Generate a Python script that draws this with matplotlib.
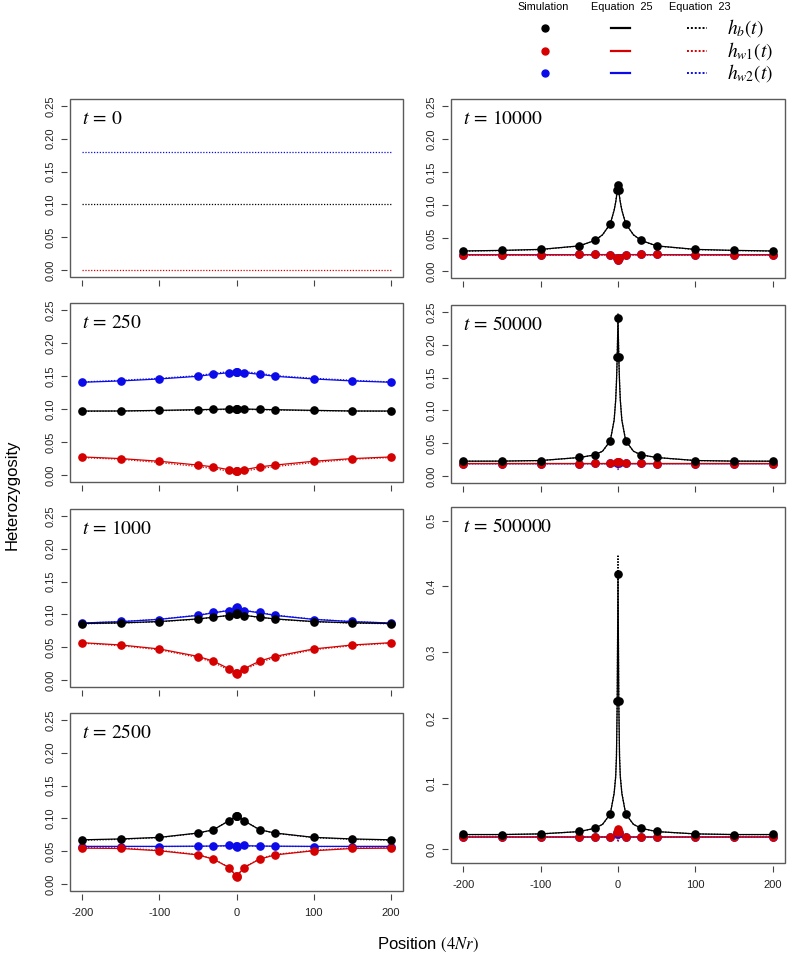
import matplotlib
matplotlib.use('Agg')
import matplotlib.pyplot as plt
from matplotlib.patches import Rectangle
from matplotlib.lines import Line2D

plt.rcParams['font.family'] = ['Liberation Sans', 'DejaVu Sans']
plt.rcParams['mathtext.fontset'] = 'stix'

# ---------------- data ----------------
pos = [-200, -150, -100, -50, -30, -10, -1, 0, 1, 10, 30, 50, 100, 150, 200]
pos_curve = [-200, -150, -100, -50, -30, -20, -10, -5, -3, -2, -1, 0, 1, 2, 3, 5, 10, 20, 30, 50, 100, 150, 200]
xticks = [-200, -100, 0, 100, 200]
yticks_small = [0.00, 0.05, 0.10, 0.15, 0.20, 0.25]
yticks_big = [0.0, 0.1, 0.2, 0.3, 0.4, 0.5]

# t = 0 (Equation 23 only)
t0_hb_eq23 = [0.10, 0.10, 0.10, 0.10, 0.10, 0.10, 0.10, 0.10, 0.10, 0.10, 0.10, 0.10, 0.10, 0.10, 0.10]
t0_hw1_eq23 = [0.0, 0.0, 0.0, 0.0, 0.0, 0.0, 0.0, 0.0, 0.0, 0.0, 0.0, 0.0, 0.0, 0.0, 0.0]
t0_hw2_eq23 = [0.18, 0.18, 0.18, 0.18, 0.18, 0.18, 0.18, 0.18, 0.18, 0.18, 0.18, 0.18, 0.18, 0.18, 0.18]

# t = 250
t250_hb_sim = [0.097, 0.097, 0.098, 0.099, 0.100, 0.100, 0.100, 0.100, 0.100, 0.100, 0.100, 0.099, 0.098, 0.097, 0.097]
t250_hw1_sim = [0.028, 0.025, 0.021, 0.015, 0.0125, 0.008, 0.0065, 0.0058, 0.0065, 0.008, 0.0125, 0.015, 0.021, 0.025, 0.028]
t250_hw2_sim = [0.141, 0.143, 0.146, 0.150, 0.153, 0.155, 0.156, 0.156, 0.156, 0.155, 0.153, 0.150, 0.146, 0.143, 0.141]
t250_hb_eq25 = [0.097, 0.097, 0.098, 0.099, 0.0995, 0.100, 0.100, 0.100, 0.100, 0.100, 0.0995, 0.099, 0.098, 0.097, 0.097]
t250_hw1_eq25 = [0.0275, 0.025, 0.021, 0.0152, 0.0125, 0.0082, 0.0066, 0.006, 0.0066, 0.0082, 0.0125, 0.0152, 0.021, 0.025, 0.0275]
t250_hw2_eq25 = [0.1405, 0.1425, 0.1455, 0.1495, 0.1525, 0.155, 0.1558, 0.156, 0.1558, 0.155, 0.1525, 0.1495, 0.1455, 0.1425, 0.1405]
t250_hb_eq23 = [0.0965, 0.097, 0.0975, 0.0985, 0.099, 0.0995, 0.0998, 0.1, 0.0998, 0.0995, 0.099, 0.0985, 0.0975, 0.097, 0.0965]
t250_hw1_eq23 = [0.0265, 0.024, 0.019, 0.013, 0.010, 0.006, 0.004, 0.0035, 0.004, 0.006, 0.010, 0.013, 0.019, 0.024, 0.0265]
t250_hw2_eq23 = [0.141, 0.1435, 0.1465, 0.1505, 0.154, 0.1565, 0.1575, 0.158, 0.1575, 0.1565, 0.154, 0.1505, 0.1465, 0.1435, 0.141]

# t = 1000
t1000_hb_sim = [0.0859, 0.0869, 0.089, 0.093, 0.096, 0.098, 0.101, 0.102, 0.101, 0.098, 0.096, 0.093, 0.089, 0.0869, 0.0859]
t1000_hw1_sim = [0.0571, 0.0535, 0.0475, 0.036, 0.0288, 0.0172, 0.011, 0.009, 0.011, 0.0172, 0.0288, 0.036, 0.0475, 0.0535, 0.0571]
t1000_hw2_sim = [0.0865, 0.0895, 0.092, 0.099, 0.103, 0.1055, 0.110, 0.1115, 0.110, 0.1055, 0.103, 0.099, 0.092, 0.0895, 0.0865]
t1000_hb_eq25 = [0.0862, 0.0872, 0.0892, 0.0932, 0.0958, 0.0985, 0.1005, 0.101, 0.1005, 0.0985, 0.0958, 0.0932, 0.0892, 0.0872, 0.0862]
t1000_hw1_eq25 = [0.057, 0.0535, 0.0475, 0.0362, 0.029, 0.0175, 0.0112, 0.0095, 0.0112, 0.0175, 0.029, 0.0362, 0.0475, 0.0535, 0.057]
t1000_hw2_eq25 = [0.087, 0.089, 0.0925, 0.0985, 0.1025, 0.1058, 0.1095, 0.111, 0.1095, 0.1058, 0.1025, 0.0985, 0.0925, 0.089, 0.087]
t1000_hb_eq23 = [0.0858, 0.0868, 0.0888, 0.0928, 0.0955, 0.0985, 0.1008, 0.1015, 0.1008, 0.0985, 0.0955, 0.0928, 0.0888, 0.0868, 0.0858]
t1000_hw1_eq23 = [0.0562, 0.0525, 0.0462, 0.0345, 0.027, 0.0155, 0.0095, 0.008, 0.0095, 0.0155, 0.027, 0.0345, 0.0462, 0.0525, 0.0562]
t1000_hw2_eq23 = [0.0868, 0.0892, 0.0928, 0.099, 0.103, 0.1062, 0.1098, 0.1112, 0.1098, 0.1062, 0.103, 0.099, 0.0928, 0.0892, 0.0868]

# t = 2500
t2500_hb_sim = [0.0672, 0.0687, 0.0712, 0.0778, 0.0828, 0.0965, 0.1035, 0.104, 0.1035, 0.0965, 0.0828, 0.0778, 0.0712, 0.0687, 0.0672]
t2500_hw1_sim = [0.0545, 0.0545, 0.0505, 0.0444, 0.0379, 0.0253, 0.013, 0.0106, 0.013, 0.0253, 0.0379, 0.0444, 0.0505, 0.0545, 0.0545]
t2500_hw2_sim = [0.0571, 0.0571, 0.0566, 0.058, 0.0576, 0.0596, 0.058, 0.0566, 0.058, 0.0596, 0.0576, 0.058, 0.0566, 0.0571, 0.0571]
t2500_hb_eq25 = [0.0675, 0.0688, 0.0712, 0.0778, 0.0828, 0.0962, 0.1032, 0.1038, 0.1032, 0.0962, 0.0828, 0.0778, 0.0712, 0.0688, 0.0675]
t2500_hw1_eq25 = [0.0548, 0.0543, 0.0508, 0.0445, 0.038, 0.0255, 0.0132, 0.011, 0.0132, 0.0255, 0.038, 0.0445, 0.0508, 0.0543, 0.0548]
t2500_hw2_eq25 = [0.0575, 0.0575, 0.0575, 0.0578, 0.058, 0.0585, 0.0582, 0.058, 0.0582, 0.0585, 0.058, 0.0578, 0.0575, 0.0575, 0.0575]
t2500_hb_eq23 = [0.0668, 0.0682, 0.0708, 0.0775, 0.0825, 0.0968, 0.104, 0.1045, 0.104, 0.0968, 0.0825, 0.0775, 0.0708, 0.0682, 0.0668]
t2500_hw1_eq23 = [0.0555, 0.0552, 0.0515, 0.0452, 0.0385, 0.0258, 0.0135, 0.0112, 0.0135, 0.0258, 0.0385, 0.0452, 0.0515, 0.0552, 0.0555]
t2500_hw2_eq23 = [0.0572, 0.0572, 0.0572, 0.0575, 0.0578, 0.0582, 0.058, 0.0578, 0.058, 0.0582, 0.0578, 0.0575, 0.0572, 0.0572, 0.0572]

# t = 10000
t10000_hb_sim = [0.0305, 0.0314, 0.0329, 0.0382, 0.0464, 0.0716, 0.123, 0.131, 0.123, 0.0716, 0.0464, 0.0382, 0.0329, 0.0314, 0.0305]
t10000_hw1_sim = [0.0247, 0.0247, 0.0247, 0.0256, 0.0266, 0.025, 0.020, 0.0164, 0.020, 0.025, 0.0266, 0.0256, 0.0247, 0.0247, 0.0247]
t10000_hw2_sim = [0.0247, 0.0247, 0.0247, 0.0256, 0.0264, 0.025, 0.020, 0.017, 0.020, 0.025, 0.0264, 0.0256, 0.0247, 0.0247, 0.0247]
t10000_hb_eq25 = [0.0305, 0.0314, 0.0329, 0.0382, 0.0464, 0.055, 0.0716, 0.092, 0.104, 0.112, 0.122, 0.131, 0.122, 0.112, 0.104, 0.092, 0.0716, 0.055, 0.0464, 0.0382, 0.0329, 0.0314, 0.0305]
t10000_hw1_eq25 = [0.0248, 0.0248, 0.0248, 0.0249, 0.025, 0.025, 0.025, 0.0245, 0.024, 0.0235, 0.022, 0.019, 0.022, 0.0235, 0.024, 0.0245, 0.025, 0.025, 0.025, 0.0249, 0.0248, 0.0248, 0.0248]
t10000_hw2_eq25 = [0.0248, 0.0248, 0.0248, 0.0249, 0.025, 0.025, 0.025, 0.0245, 0.024, 0.0235, 0.0225, 0.020, 0.0225, 0.0235, 0.024, 0.0245, 0.025, 0.025, 0.025, 0.0249, 0.0248, 0.0248, 0.0248]
t10000_hb_eq23 = [0.0302, 0.0311, 0.0326, 0.038, 0.0462, 0.0548, 0.0715, 0.0925, 0.105, 0.113, 0.124, 0.134, 0.124, 0.113, 0.105, 0.0925, 0.0715, 0.0548, 0.0462, 0.038, 0.0326, 0.0311, 0.0302]
t10000_hw1_eq23 = [0.0245, 0.0245, 0.0245, 0.0246, 0.0247, 0.0247, 0.0246, 0.024, 0.0232, 0.0225, 0.021, 0.0165, 0.021, 0.0225, 0.0232, 0.024, 0.0246, 0.0247, 0.0247, 0.0246, 0.0245, 0.0245, 0.0245]
t10000_hw2_eq23 = [0.0244, 0.0244, 0.0244, 0.0245, 0.0246, 0.0246, 0.0245, 0.0238, 0.023, 0.0222, 0.0205, 0.016, 0.0205, 0.0222, 0.023, 0.0238, 0.0245, 0.0246, 0.0246, 0.0245, 0.0244, 0.0244, 0.0244]

# t = 50000
t50000_hb_sim = [0.0228, 0.0228, 0.0238, 0.0284, 0.0324, 0.0537, 0.181, 0.240, 0.181, 0.0537, 0.0324, 0.0284, 0.0238, 0.0228, 0.0228]
t50000_hw1_sim = [0.0192, 0.0192, 0.0192, 0.0192, 0.0193, 0.0198, 0.021, 0.0222, 0.021, 0.0198, 0.0193, 0.0192, 0.0192, 0.0192, 0.0192]
t50000_hw2_sim = [0.0192, 0.0192, 0.0192, 0.0192, 0.0193, 0.0198, 0.0205, 0.021, 0.0205, 0.0198, 0.0193, 0.0192, 0.0192, 0.0192, 0.0192]
t50000_hb_eq25 = [0.0228, 0.0229, 0.0238, 0.0284, 0.0324, 0.038, 0.0537, 0.085, 0.115, 0.142, 0.181, 0.240, 0.181, 0.142, 0.115, 0.085, 0.0537, 0.038, 0.0324, 0.0284, 0.0238, 0.0229, 0.0228]
t50000_hw1_eq25 = [0.0192, 0.0192, 0.0192, 0.0192, 0.0192, 0.0192, 0.0193, 0.0194, 0.0195, 0.0196, 0.0198, 0.020, 0.0198, 0.0196, 0.0195, 0.0194, 0.0193, 0.0192, 0.0192, 0.0192, 0.0192, 0.0192, 0.0192]
t50000_hw2_eq25 = [0.0191, 0.0191, 0.0191, 0.0191, 0.0191, 0.0191, 0.0191, 0.019, 0.0188, 0.0185, 0.018, 0.017, 0.018, 0.0185, 0.0188, 0.019, 0.0191, 0.0191, 0.0191, 0.0191, 0.0191, 0.0191, 0.0191]
t50000_hb_eq23 = [0.0227, 0.0228, 0.0237, 0.0283, 0.0323, 0.0378, 0.0535, 0.086, 0.117, 0.145, 0.184, 0.248, 0.184, 0.145, 0.117, 0.086, 0.0535, 0.0378, 0.0323, 0.0283, 0.0237, 0.0228, 0.0227]
t50000_hw1_eq23 = [0.0191, 0.0191, 0.0191, 0.0191, 0.0191, 0.0191, 0.019, 0.0185, 0.018, 0.0172, 0.016, 0.011, 0.016, 0.0172, 0.018, 0.0185, 0.019, 0.0191, 0.0191, 0.0191, 0.0191, 0.0191, 0.0191]
t50000_hw2_eq23 = [0.019, 0.019, 0.019, 0.019, 0.019, 0.019, 0.0189, 0.0184, 0.0178, 0.017, 0.0158, 0.010, 0.0158, 0.017, 0.0178, 0.0184, 0.0189, 0.019, 0.019, 0.019, 0.019, 0.019, 0.019]

# t = 500000
t500000_hb_sim = [0.0228, 0.0218, 0.0239, 0.0274, 0.0325, 0.0538, 0.225, 0.419, 0.225, 0.0538, 0.0325, 0.0274, 0.0239, 0.0218, 0.0228]
t500000_hw1_sim = [0.0188, 0.0186, 0.0188, 0.0188, 0.0188, 0.0193, 0.027, 0.031, 0.027, 0.0193, 0.0188, 0.0188, 0.0188, 0.0186, 0.0188]
t500000_hw2_sim = [0.0188, 0.0186, 0.0188, 0.0188, 0.0188, 0.0193, 0.025, 0.027, 0.025, 0.0193, 0.0188, 0.0188, 0.0188, 0.0186, 0.0188]
t500000_hb_eq25 = [0.0225, 0.0225, 0.0235, 0.027, 0.032, 0.038, 0.0538, 0.085, 0.11, 0.14, 0.225, 0.419, 0.225, 0.14, 0.11, 0.085, 0.0538, 0.038, 0.032, 0.027, 0.0235, 0.0225, 0.0225]
t500000_hw1_eq25 = [0.0188, 0.0188, 0.0188, 0.0188, 0.0188, 0.0188, 0.0189, 0.019, 0.0192, 0.0195, 0.020, 0.024, 0.020, 0.0195, 0.0192, 0.019, 0.0189, 0.0188, 0.0188, 0.0188, 0.0188, 0.0188, 0.0188]
t500000_hw2_eq25 = [0.0187, 0.0187, 0.0187, 0.0187, 0.0187, 0.0187, 0.0187, 0.0186, 0.0185, 0.0183, 0.018, 0.016, 0.018, 0.0183, 0.0185, 0.0186, 0.0187, 0.0187, 0.0187, 0.0187, 0.0187, 0.0187, 0.0187]
t500000_hb_eq23 = [0.0224, 0.0224, 0.0234, 0.0269, 0.0319, 0.0378, 0.0536, 0.086, 0.112, 0.143, 0.232, 0.448, 0.232, 0.143, 0.112, 0.086, 0.0536, 0.0378, 0.0319, 0.0269, 0.0234, 0.0224, 0.0224]
t500000_hw1_eq23 = [0.0187, 0.0187, 0.0187, 0.0187, 0.0187, 0.0187, 0.0186, 0.0182, 0.0178, 0.0172, 0.016, 0.0115, 0.016, 0.0172, 0.0178, 0.0182, 0.0186, 0.0187, 0.0187, 0.0187, 0.0187, 0.0187, 0.0187]
t500000_hw2_eq23 = [0.0186, 0.0186, 0.0186, 0.0186, 0.0186, 0.0186, 0.0185, 0.0181, 0.0176, 0.017, 0.0158, 0.011, 0.0158, 0.017, 0.0176, 0.0181, 0.0185, 0.0186, 0.0186, 0.0186, 0.0186, 0.0186, 0.0186]

# ---------------- styling ----------------
BLACK = '#000000'
RED = '#d50000'
BLUE = '#0b0bea'
FRAME = '#5a5a5a'
W, H = 788, 956
fig = plt.figure(figsize=(W / 100, H / 100), dpi=100)


def panel(x0, y0, x1, y1):
    return fig.add_axes([x0 / W, 1 - y1 / H, (x1 - x0) / W, (y1 - y0) / H])


def style(ax, title, big=False, xlabels=False):
    ax.set_xlim(-216, 216)
    if big:
        ax.set_ylim(-0.0208, 0.5208)
        ax.set_yticks(yticks_big)
        ax.set_yticklabels([f'{v:.1f}' for v in yticks_big])
    else:
        ax.set_ylim(-0.0104, 0.2604)
        ax.set_yticks(yticks_small)
        ax.set_yticklabels([f'{v:.2f}' for v in yticks_small])
    ax.set_xticks(xticks)
    if xlabels:
        ax.set_xticklabels([str(v) for v in xticks])
    else:
        ax.set_xticklabels([])
    for sp in ax.spines.values():
        sp.set_visible(False)
    ax.spines['bottom'].set_position(('outward', 2))
    ax.spines['left'].set_position(('outward', 2))
    ax.add_patch(Rectangle((0, 0), 1, 1, transform=ax.transAxes, fill=False,
                           ec=FRAME, lw=1.0, clip_on=False, zorder=10))
    ax.tick_params(axis='both', direction='out', length=4, width=0.8,
                   color='#444444', labelsize=8, labelcolor='#222222')
    ax.tick_params(axis='y', pad=4)
    ax.tick_params(axis='x', pad=6)
    for lab in ax.get_yticklabels():
        lab.set_rotation(90)
        lab.set_va('center')
    ax.annotate(title, xy=(0, 1), xycoords='axes fraction', xytext=(12, -20),
                textcoords='offset pixels', ha='left', va='center', fontsize=14)


def series(ax, color, x_sim, sim, x_c, eq25, eq23):
    if eq23 is not None:
        ax.plot(x_c, eq23, color=color, lw=0.9, linestyle=(0, (1, 1.3)), zorder=3)
    if eq25 is not None:
        ax.plot(x_c, eq25, color=color, lw=0.9, zorder=3)
    if sim is not None:
        ax.plot(x_sim, sim, linestyle='none', marker='o', ms=5.2, color=color,
                mec=color, zorder=4)


# left column
L0, L1 = 70, 403
R0, R1 = 451, 785

ax = panel(L0, 99, L1, 277)
series(ax, BLUE, pos, None, pos, None, t0_hw2_eq23)
series(ax, RED, pos, None, pos, None, t0_hw1_eq23)
series(ax, BLACK, pos, None, pos, None, t0_hb_eq23)
style(ax, r'$t\,=\,0$')

ax = panel(L0, 303, L1, 482)
series(ax, BLUE, pos, t250_hw2_sim, pos, t250_hw2_eq25, t250_hw2_eq23)
series(ax, RED, pos, t250_hw1_sim, pos, t250_hw1_eq25, t250_hw1_eq23)
series(ax, BLACK, pos, t250_hb_sim, pos, t250_hb_eq25, t250_hb_eq23)
style(ax, r'$t\,=\,250$')

ax = panel(L0, 509, L1, 687)
series(ax, BLUE, pos, t1000_hw2_sim, pos, t1000_hw2_eq25, t1000_hw2_eq23)
series(ax, RED, pos, t1000_hw1_sim, pos, t1000_hw1_eq25, t1000_hw1_eq23)
series(ax, BLACK, pos, t1000_hb_sim, pos, t1000_hb_eq25, t1000_hb_eq23)
style(ax, r'$t\,=\,1000$')

ax = panel(L0, 713, L1, 891)
series(ax, BLUE, pos, t2500_hw2_sim, pos, t2500_hw2_eq25, t2500_hw2_eq23)
series(ax, RED, pos, t2500_hw1_sim, pos, t2500_hw1_eq25, t2500_hw1_eq23)
series(ax, BLACK, pos, t2500_hb_sim, pos, t2500_hb_eq25, t2500_hb_eq23)
style(ax, r'$t\,=\,2500$', xlabels=True)

# right column
ax = panel(R0, 99, R1, 278)
series(ax, BLUE, pos, t10000_hw2_sim, pos_curve, t10000_hw2_eq25, t10000_hw2_eq23)
series(ax, RED, pos, t10000_hw1_sim, pos_curve, t10000_hw1_eq25, t10000_hw1_eq23)
series(ax, BLACK, pos, t10000_hb_sim, pos_curve, t10000_hb_eq25, t10000_hb_eq23)
style(ax, r'$t\,=\,10000$')

ax = panel(R0, 305, R1, 483)
series(ax, BLUE, pos, t50000_hw2_sim, pos_curve, t50000_hw2_eq25, t50000_hw2_eq23)
series(ax, RED, pos, t50000_hw1_sim, pos_curve, t50000_hw1_eq25, t50000_hw1_eq23)
series(ax, BLACK, pos, t50000_hb_sim, pos_curve, t50000_hb_eq25, t50000_hb_eq23)
style(ax, r'$t\,=\,50000$')

ax = panel(R0, 507, R1, 863)
series(ax, BLUE, pos, t500000_hw2_sim, pos_curve, t500000_hw2_eq25, t500000_hw2_eq23)
series(ax, RED, pos, t500000_hw1_sim, pos_curve, t500000_hw1_eq25, t500000_hw1_eq23)
series(ax, BLACK, pos, t500000_hb_sim, pos_curve, t500000_hb_eq25, t500000_hb_eq23)
style(ax, r'$t\,=\,500000$', big=True, xlabels=True)

# axis titles
fig.text(12 / W, 1 - 495 / H, 'Heterozygosity', rotation=90, ha='center', va='center',
         fontsize=12)
fig.text(428 / W, 1 - 945 / H, r'Position $(4Nr)$', ha='center', va='center', fontsize=12)

# legend
legend_labels = [r'$h_b(t)$', r'$h_{w1}(t)$', r'$h_{w2}(t)$']
legend_colors = [BLACK, RED, BLUE]
legend_rows = [28, 51, 73]
fig.text(543 / W, 1 - 7 / H, 'Simulation', ha='center', va='center', fontsize=7.8)
fig.text(622 / W, 1 - 7 / H, 'Equation  25', ha='center', va='center', fontsize=7.8)
fig.text(700 / W, 1 - 7 / H, 'Equation  23', ha='center', va='center', fontsize=7.8)
for lab, col, yy in zip(legend_labels, legend_colors, legend_rows):
    yf = 1 - yy / H
    fig.add_artist(Line2D([545 / W], [yf], marker='o', ms=5, color=col, linestyle='none'))
    fig.add_artist(Line2D([611 / W, 630 / W], [yf, yf], color=col, lw=1.6))
    fig.add_artist(Line2D([687 / W, 707 / W], [yf, yf], color=col, lw=1.4,
                          linestyle=(0, (1, 1))))
    fig.text(727 / W, yf, lab, ha='left', va='center', fontsize=14)

fig.savefig('out.png', dpi=100)
